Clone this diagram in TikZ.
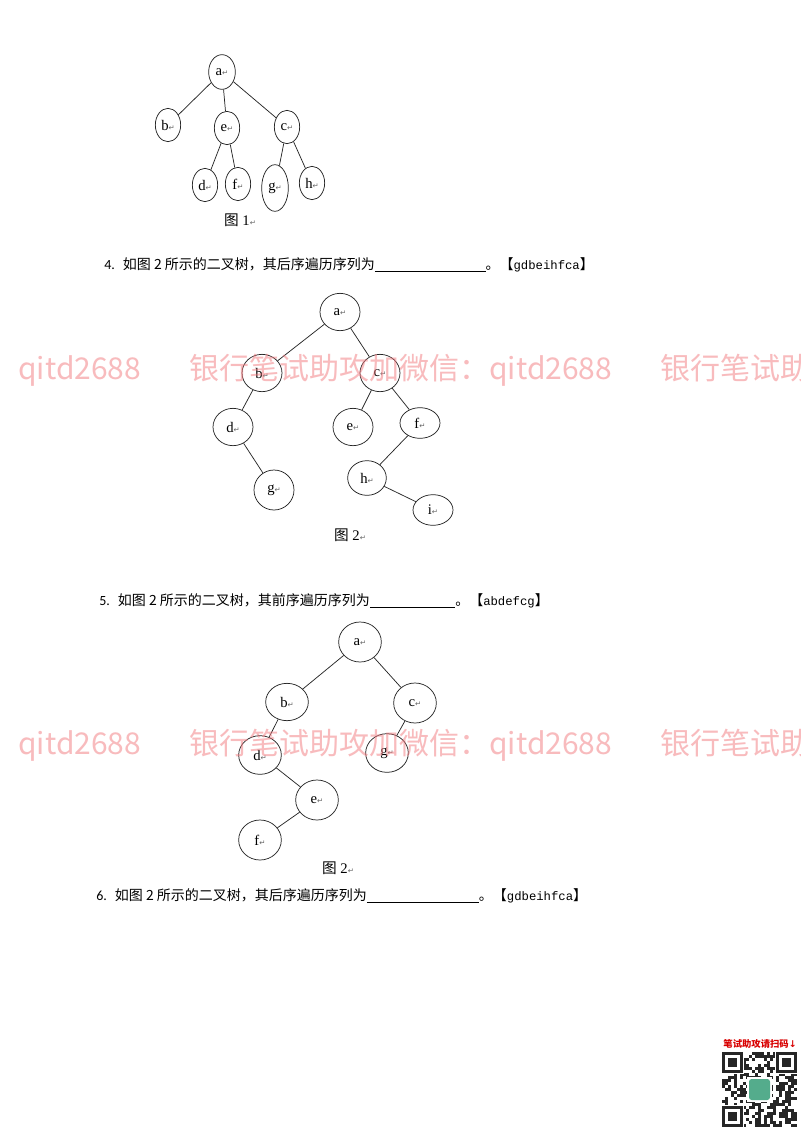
\documentclass[tikz,border=0pt]{standalone}
\usepackage{fontspec}
\setmainfont{Liberation Serif}
\newfontfamily\cjk{Noto Sans CJK SC}
\newfontfamily\dejavu{DejaVu Sans}
\newfontfamily\numfont{Carlito}
\newfontfamily\ansfont{Liberation Mono}
\usetikzlibrary{shapes.geometric}
\definecolor{wmpink}{RGB}{242,120,125}
\definecolor{qrgreen}{RGB}{84,172,140}
\newcommand{\pmark}{{\dejavu\fontsize{5.5}{5.5}\selectfont\color{black!60}↵}}
\newcommand{\blank}[1]{\underline{\hspace{#1}}}

\begin{document}
\begin{tikzpicture}[
    x=0.75pt, y=-0.75pt,
    tone/.style={ellipse, draw=black!85, line width=0.55pt, inner sep=0pt, minimum width=19pt, minimum height=25pt, font=\fontsize{11}{12}\selectfont},
    ttwo/.style={ellipse, draw=black!85, line width=0.55pt, inner sep=0pt, minimum width=30pt, minimum height=28pt, font=\fontsize{11}{12}\selectfont},
    tthree/.style={ellipse, draw=black!85, line width=0.55pt, inner sep=0pt, minimum width=32pt, minimum height=30pt, font=\fontsize{11}{12}\selectfont},
    branch/.style={draw=black!85, line width=0.55pt},
    caption/.style={font=\fontsize{11}{12}\selectfont},
    question/.style={anchor=west, inner sep=0pt, font=\cjk\fontsize{10.5}{12}\selectfont},
    watermark/.style={anchor=west, inner sep=0pt, text=wmpink, text opacity=0.5, font=\cjk\fontsize{22.5}{24}\selectfont}
]
\fill[white] (0,0) rectangle (800,1132);
\useasboundingbox (0,0) rectangle (800,1132);

% Tree of figure 1
\node[tone, minimum width=20pt, minimum height=26pt] (a1) at (222,72) {a\pmark};
\node[tone] (b1) at (168,125) {b\pmark};
\node[tone] (e1) at (227,128) {e\pmark};
\node[tone] (c1) at (287,127) {c\pmark};
\node[tone] (d1) at (205,185) {d\pmark};
\node[tone] (f1) at (238,184) {f\pmark};
\node[tone, minimum width=20pt, minimum height=35pt] (g1) at (275,188) {g\pmark};
\node[tone] (h1) at (312,183) {h\pmark};
\draw[branch] (a1) -- (b1);
\draw[branch] (a1) -- (e1);
\draw[branch] (a1) -- (c1);
\draw[branch] (e1) -- (d1);
\draw[branch] (e1) -- (f1);
\draw[branch] (c1) -- (g1);
\draw[branch] (c1) -- (h1);
\node[caption] (cap1) at (240,220) {{\cjk 图} 1\pmark};

% Question 4
\node[question] (q4) at (104,265) {{\numfont 4.}\hspace{6pt}如图 2 所示的二叉树，其后序遍历序列为\blank{83pt}。【{\ansfont\fontsize{9.2}{12}\selectfont gdbeihfca}】};

% Tree of figure 2
\node[ttwo] (a2) at (340,312) {a\pmark};
\node[ttwo] (b2) at (262,373) {b\pmark};
\node[ttwo] (c2) at (380,373) {c\pmark};
\node[ttwo] (d2) at (233,427) {d\pmark};
\node[ttwo] (e2) at (353,427) {e\pmark};
\node[ttwo, minimum height=23pt] (f2) at (420,423) {f\pmark};
\node[ttwo, minimum height=30pt] (g2) at (274,490) {g\pmark};
\node[ttwo, minimum width=29pt, minimum height=26pt] (h2) at (367,478) {h\pmark};
\node[ttwo, minimum height=23pt] (i2) at (433,510) {i\pmark};
\draw[branch] (a2) -- (b2);
\draw[branch] (a2) -- (c2);
\draw[branch] (b2) -- (d2);
\draw[branch] (d2) -- (g2);
\draw[branch] (c2) -- (e2);
\draw[branch] (c2) -- (f2);
\draw[branch] (f2) -- (h2);
\draw[branch] (h2) -- (i2);
\node[caption] (cap2) at (350,535) {{\cjk 图} 2\pmark};

% Question 5
\node[question] (q5) at (99,601) {{\numfont 5.}\hspace{6pt}如图 2 所示的二叉树，其前序遍历序列为\blank{64pt}。【{\ansfont\fontsize{9.2}{12}\selectfont abdefcg}】};

% Tree of the second figure 2
\node[tthree] (a3) at (360,642) {a\pmark};
\node[tthree, minimum height=28pt] (b3) at (287,702) {b\pmark};
\node[tthree] (c3) at (415,703) {c\pmark};
\node[tthree, minimum height=29pt] (d3) at (260,755) {d\pmark};
\node[tthree, minimum height=29pt] (g3) at (387,753) {g\pmark};
\node[tthree] (e3) at (317,800) {e\pmark};
\node[tthree] (f3) at (260,840) {f\pmark};
\draw[branch] (a3) -- (b3);
\draw[branch] (a3) -- (c3);
\draw[branch] (b3) -- (d3);
\draw[branch] (c3) -- (g3);
\draw[branch] (d3) -- (e3);
\draw[branch] (e3) -- (f3);
\node[caption] (cap3) at (338,868) {{\cjk 图} 2\pmark};

% Question 6
\node[question] (q6) at (96,896) {{\numfont 6.}\hspace{6pt}如图 2 所示的二叉树，其后序遍历序列为\blank{84pt}。【{\ansfont\fontsize{9.2}{12}\selectfont gdbeihfca}】};

% Watermarks
\begin{scope}
\clip (0,0) rectangle (800,1132);
\foreach \wy in {370,745}{
  \foreach \wx in {-282,189,660}{
    \node[watermark] at (\wx,\wy) {银行笔试助攻加微信：qitd2688};
  }
}
\end{scope}

% QR code
\node[inner sep=0pt, text=red!85!black, font=\cjk\bfseries\fontsize{7}{8}\selectfont] (qrtitle) at (760,1044) {笔试助攻请扫码{\dejavu ↓}};
\pgfmathsetseed{11}
\foreach \i in {0,...,24}{
  \foreach \j in {0,...,24}{
    \pgfmathrandominteger{\qbit}{0}{1}
    \ifnum\qbit=1 \fill[black!85] (722+3*\i,1052+3*\j) rectangle ++(3,3);\fi
  }
}
\foreach \fx/\fy in {722/1052,776/1052,722/1106}{
  \fill[white] (\fx-1,\fy-1) rectangle ++(23,23);
  \fill[black!85] (\fx,\fy) rectangle ++(21,21);
  \fill[white] (\fx+3,\fy+3) rectangle ++(15,15);
  \fill[black!85] (\fx+6,\fy+6) rectangle ++(9,9);
}
\fill[white] (747,1077) rectangle ++(25,25);
\fill[qrgreen, rounded corners=2pt] (749,1079) rectangle ++(21,21);
\end{tikzpicture}
\end{document}
